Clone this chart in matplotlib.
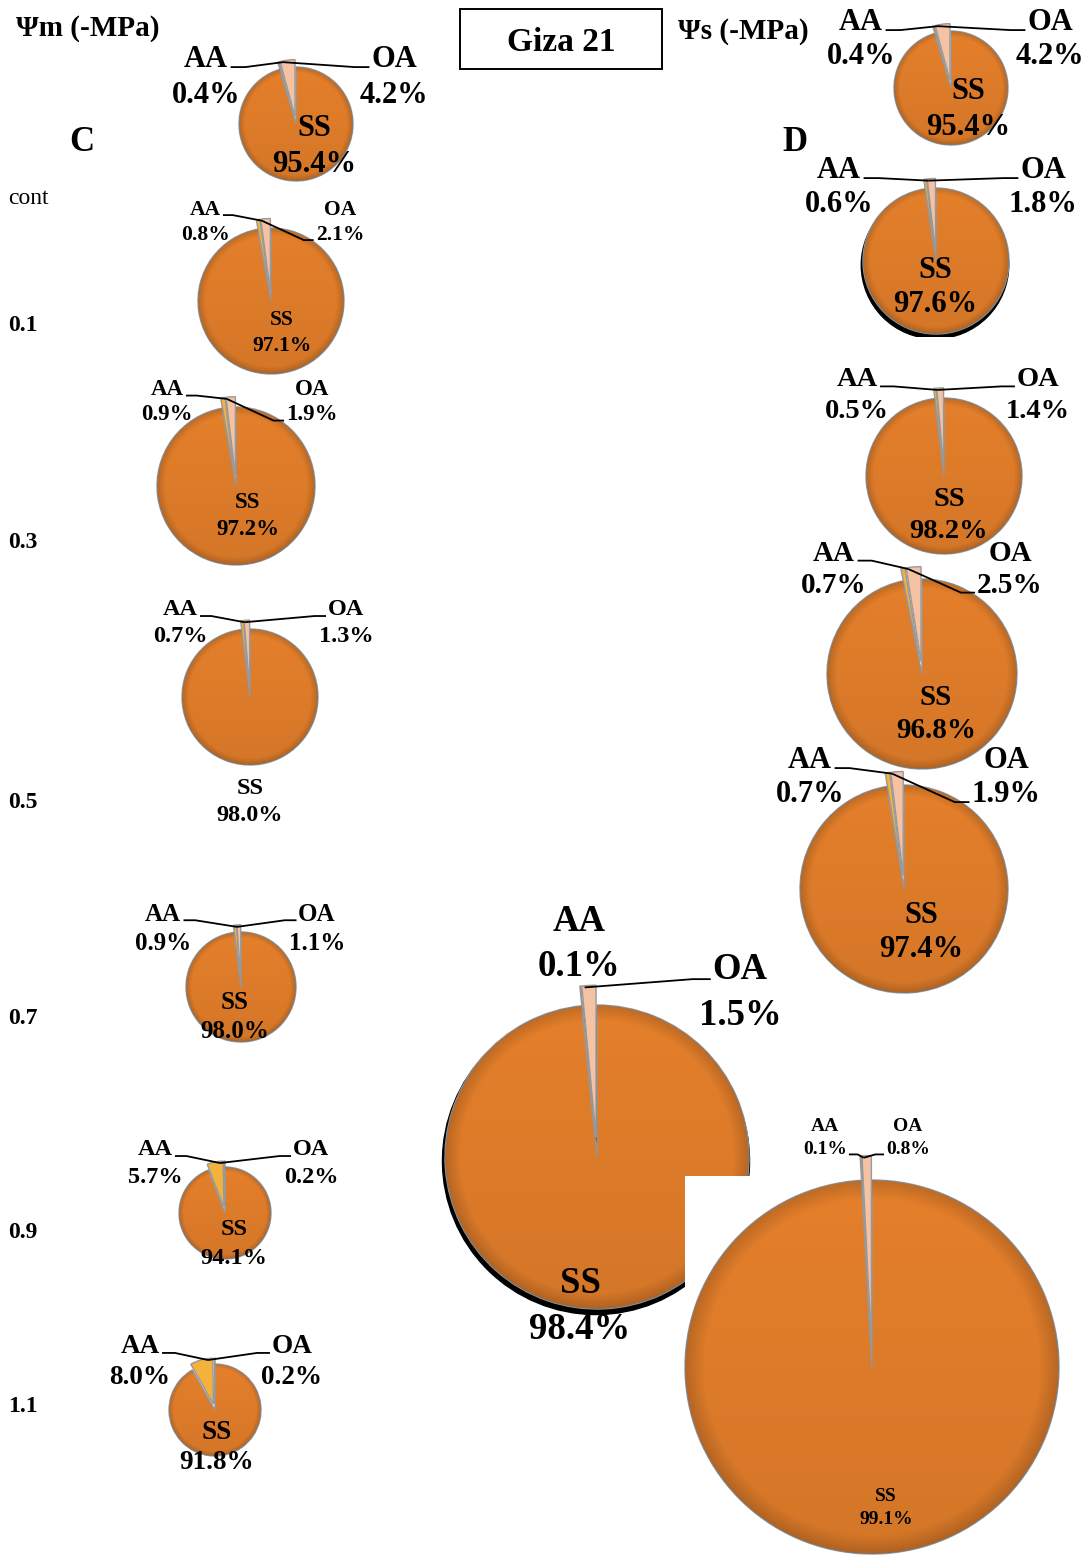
import numpy as np
import matplotlib.pyplot as plt
from matplotlib.patches import Rectangle, Circle

W, H = 1090, 1558
plt.rcParams['font.family'] = ['Liberation Serif', 'DejaVu Serif']

levels = ['cont', '0.1', '0.3', '0.5', '0.7', '0.9', '1.1']
parts = ['SS', 'AA', 'OA']

# panel C : matric potential
c_ss = [95.4, 97.1, 97.2, 98.0, 98.0, 94.1, 91.8]
c_aa = [0.4, 0.8, 0.9, 0.7, 0.9, 5.7, 8.0]
c_oa = [4.2, 2.1, 1.9, 1.3, 1.1, 0.2, 0.2]

# panel D : osmotic potential
d_ss = [95.4, 97.6, 98.2, 96.8, 97.4, 98.4, 99.1]
d_aa = [0.4, 0.6, 0.5, 0.7, 0.7, 0.1, 0.1]
d_oa = [4.2, 1.8, 1.4, 2.5, 1.9, 1.5, 0.8]

colors = ['#e47f2b', '#f2b23c', '#f6c2a4']

# placement in pixels: centre, radius, font size, label spots (x, y name, y value),
# which text row each leader line ends on (None = no line)
c_layout = [
    dict(c=(296, 124), r=57, fs=22, aa=(206, 57, 93), oa=(394, 57, 93), ss=(314, 126, 162), rows=(0, 0)),
    dict(c=(271, 301), r=73, fs=15.5, aa=(205, 208, 233), oa=(340, 208, 233), ss=(282, 318, 344), rows=(0, 1)),
    dict(c=(236, 486), r=79, fs=16.5, aa=(167, 388, 413), oa=(312, 388, 413), ss=(248, 501, 528), rows=(0, 1)),
    dict(c=(250, 697), r=68, fs=17.5, aa=(180, 608, 635), oa=(346, 608, 635), ss=(250, 787, 814), rows=(0, 0)),
    dict(c=(241, 987), r=55, fs=18, aa=(163, 912, 941), oa=(317, 912, 941), ss=(235, 1000, 1030), rows=(0, 0),
         clip=1043),
    dict(c=(225, 1213), r=46, fs=17.5, aa=(155, 1148, 1176), oa=(311, 1148, 1176), ss=(234, 1228, 1257), rows=(0, 0)),
    dict(c=(215, 1410), r=46, fs=19.5, aa=(140, 1344, 1375), oa=(292, 1344, 1375), ss=(217, 1430, 1460), rows=(0, 0)),
]
d_layout = [
    dict(c=(951, 88), r=57, fs=22, aa=(861, 20, 54), oa=(1050, 20, 54), ss=(968, 89, 125), rows=(0, 0)),
    dict(c=(936, 261), r=73, fs=22, aa=(839, 168, 202), oa=(1043, 168, 202), ss=(935, 268, 302), rows=(0, 0),
         clip=337, shadow=True),
    dict(c=(944, 476), r=78, fs=20.5, aa=(857, 377, 409), oa=(1038, 377, 409), ss=(949, 497, 529), rows=(0, 0)),
    dict(c=(922, 674), r=95, fs=21, aa=(834, 551, 583), oa=(1010, 551, 583), ss=(936, 695, 728), rows=(0, 1)),
    dict(c=(904, 889), r=104, fs=22, aa=(810, 758, 792), oa=(1006, 758, 792), ss=(921, 913, 947), rows=(0, 1)),
    dict(c=(597, 1157), r=152, fs=26.5, aa=(579, 919, 964), oa=(740, 967, 1013), ss=(580, 1281, 1327),
         rows=(None, 0), shadow=True),
    dict(c=(872, 1367), r=187, fs=14, aa=(825, 1125, 1148), oa=(908, 1125, 1148), ss=(886, 1495, 1518),
         rows=(1, 1), backing=(685, 1176), box=(680, 1100, 1090, 1558)),
]

fig = plt.figure(figsize=(W / 100, H / 100), dpi=100)


def shade(ax, wedge, r):
    # slight darkening toward the bottom and the rim for a rounded look
    n = 240
    yy, xx = np.mgrid[-1:1:n * 1j, -1:1:n * 1j]
    d = np.hypot(xx, yy)
    a = 0.035 * (yy + 1) + 0.16 * np.clip((d - 0.9) / 0.1, 0, 1)
    img = np.zeros((n, n, 4))
    img[..., 3] = np.clip(a, 0, 0.3)
    cx, cy = wedge.center
    im = ax.imshow(img, extent=(cx - r, cx + r, cy - r, cy + r), origin='upper',
                   interpolation='bilinear', zorder=1.5)
    im.set_clip_path(wedge)


def leader(ax, lab, row, side, em, tip):
    if row is None:
        return
    x, y1, y2 = lab
    y = y1 if row == 0 else y2
    half = (0.74 if row == 0 else 1.13) * em
    y = H - (y + 0.33 * em)
    if side == 'left':
        xs = [x + half + 2, x + half + 0.55 * em, tip[0]]
    else:
        xs = [x - half - 2, x - half - 0.55 * em, tip[0]]
    ax.plot(xs, [y, y, tip[1]], color='black', lw=1.3, zorder=4, solid_capstyle='butt')


def draw_pie(ss, aa, oa, lay):
    cx, cy = lay['c']
    r = lay['r']
    fs = lay['fs']
    em = fs * 100 / 72
    dy = 0.08 * em  # nudge so the cap height sits on the given centre line
    if 'box' in lay:
        x0, y0, x1, y1 = lay['box']
    else:
        x0 = max(0, cx - r - 150)
        x1 = min(W, cx + r + 150)
        y0 = max(0, min(lay['aa'][1], lay['oa'][1]) - 30)
        y1 = min(H, max(cy + r, lay['ss'][2]) + 30)
        if 'clip' in lay:
            y1 = lay['clip']
    ax = fig.add_axes([x0 / W, 1 - y1 / H, (x1 - x0) / W, (y1 - y0) / H])
    if 'backing' in lay:
        bx, by = lay['backing']
        ax.set_zorder(5)
        ax.add_patch(Rectangle((bx, 0), W - bx, H - by, facecolor='white', edgecolor='none', zorder=0))
    if lay.get('shadow'):
        ax.add_patch(Circle((cx - 1, H - cy - 4), r * 1.01, color='black', zorder=0.5))
    wedges, _ = ax.pie([ss, aa, oa], colors=colors, startangle=90, counterclock=False,
                       explode=[0, 0.13 * r, 0.13 * r], center=(cx, H - cy), radius=r, frame=True,
                       wedgeprops=dict(edgecolor='#999999', linewidth=1.0))
    ax.set_xlim(x0, x1)
    ax.set_ylim(H - y1, H - y0)
    ax.set_aspect('auto')
    ax.axis('off')
    shade(ax, wedges[0], r)

    tips = []
    for w in wedges[1:]:
        mid = np.deg2rad((w.theta1 + w.theta2) / 2)
        wx, wy = w.center
        tips.append((wx + w.r * np.cos(mid), wy + w.r * np.sin(mid)))
    tip = ((tips[0][0] + tips[1][0]) / 2, max(tips[0][1], tips[1][1]) - 2)

    for name, val, key in zip(parts, [ss, aa, oa], ['ss', 'aa', 'oa']):
        x, ya, yb = lay[key]
        ax.text(x, H - ya - dy, name, fontsize=fs, fontweight='bold', ha='center', va='center',
                clip_on=True, zorder=5)
        ax.text(x, H - yb - dy, f'{val:.1f}%', fontsize=fs, fontweight='bold', ha='center', va='center',
                clip_on=True, zorder=5)
    leader(ax, lay['aa'], lay['rows'][0], 'left', em, tip)
    leader(ax, lay['oa'], lay['rows'][1], 'right', em, tip)


for i in range(len(levels)):
    draw_pie(c_ss[i], c_aa[i], c_oa[i], c_layout[i])
for i in range(len(levels)):
    draw_pie(d_ss[i], d_aa[i], d_oa[i], d_layout[i])

# headings and row names on a full-size overlay
top = fig.add_axes([0, 0, 1, 1], zorder=10)
top.set_xlim(0, W)
top.set_ylim(H, 0)
top.axis('off')
top.text(88, 28, 'Ψm (-MPa)', fontsize=21, fontweight='bold', ha='center', va='center')
top.text(743, 31, 'Ψs (-MPa)', fontsize=21, fontweight='bold', ha='center', va='center')
top.add_patch(Rectangle((460, 9), 202, 60, facecolor='none', edgecolor='black', lw=1.4))
top.text(561, 42, 'Giza 21', fontsize=24, fontweight='bold', ha='center', va='center')
top.text(82, 142, 'C', fontsize=25, fontweight='bold', ha='center', va='center')
top.text(795, 142, 'D', fontsize=25, fontweight='bold', ha='center', va='center')

row_y = [198, 325, 542, 802, 1018, 1233, 1407]
for lab, y in zip(levels, row_y):
    if lab == 'cont':
        top.text(8, y, lab, fontsize=17, ha='left', va='center')
    else:
        top.text(8, y, lab, fontsize=17, fontweight='bold', ha='left', va='center')

fig.savefig('out.png', dpi=100)
